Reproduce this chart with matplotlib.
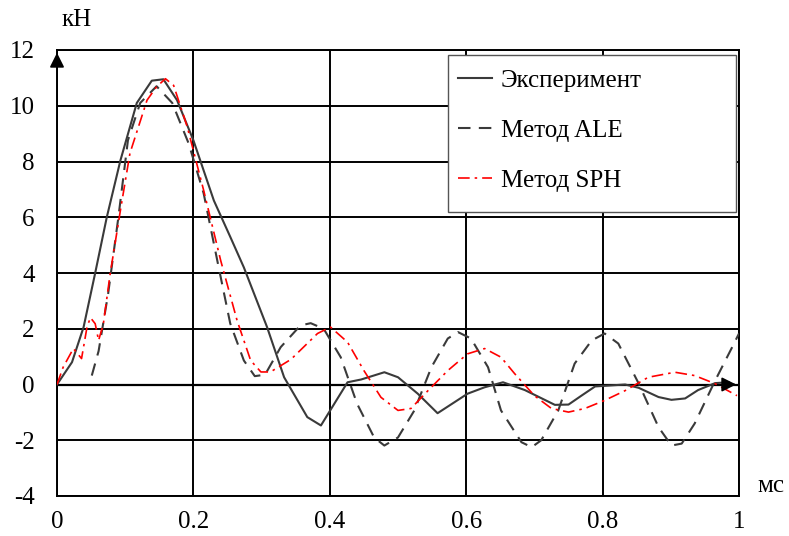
import matplotlib.pyplot as plt
from matplotlib.patches import Rectangle

plt.rcParams['font.family'] = ['Liberation Serif', 'DejaVu Serif']
plt.rcParams['axes.unicode_minus'] = False

# Эксперимент
exp_t = [0.0, 0.022, 0.039, 0.056, 0.073, 0.093, 0.117, 0.139, 0.156, 0.176, 0.2,
         0.23, 0.254, 0.274, 0.308, 0.333, 0.367, 0.387, 0.426, 0.446, 0.48, 0.5,
         0.529, 0.558, 0.602, 0.627, 0.654, 0.686, 0.73, 0.75, 0.769, 0.789, 0.833,
         0.853, 0.882, 0.901, 0.921, 0.94, 0.965, 0.985]
exp_f = [0.0, 0.8, 2.06, 4.0, 6.0, 8.04, 10.1, 10.9, 10.95, 10.2, 8.76,
         6.6, 5.3, 4.2, 2.06, 0.26, -1.17, -1.47, 0.08, 0.18, 0.44, 0.26,
         -0.33, -1.03, -0.33, -0.1, 0.08, -0.2, -0.73, -0.72, -0.4, -0.07, 0.0,
         -0.12, -0.45, -0.55, -0.5, -0.2, 0.05, 0.08]

# Метод ALE
ale_t = [0.051, 0.061, 0.075, 0.09, 0.104, 0.122, 0.146, 0.169, 0.193, 0.215,
         0.235, 0.254, 0.274, 0.29, 0.305, 0.328, 0.357, 0.372, 0.391, 0.416,
         0.44, 0.465, 0.48, 0.5, 0.524, 0.549, 0.573, 0.588, 0.607, 0.632,
         0.651, 0.681, 0.696, 0.71, 0.735, 0.759, 0.784, 0.803, 0.823, 0.853,
         0.882, 0.901, 0.916, 0.935, 0.965, 0.99, 1.0]
ale_f = [0.32, 1.2, 3.26, 6.0, 8.76, 10.1, 10.7, 10.1, 8.65, 6.86,
         4.45, 2.19, 0.86, 0.3, 0.35, 1.34, 2.12, 2.2, 2.0, 0.98,
         -0.69, -1.9, -2.19, -1.9, -0.93, 0.62, 1.65, 1.88, 1.65, 0.62,
         -0.93, -2.07, -2.25, -2.0, -0.93, 0.75, 1.58, 1.83, 1.47, 0.03,
         -1.53, -2.19, -2.12, -1.4, 0.14, 1.34, 1.83]

# Метод SPH
sph_t = [0.0, 0.009, 0.024, 0.036, 0.044, 0.049, 0.056, 0.061, 0.068, 0.078,
         0.093, 0.107, 0.132, 0.146, 0.159, 0.171, 0.191, 0.215, 0.24, 0.264,
         0.284, 0.299, 0.313, 0.343, 0.382, 0.401, 0.426, 0.45, 0.475, 0.5,
         0.519, 0.544, 0.573, 0.602, 0.627, 0.651, 0.671, 0.7, 0.725, 0.75,
         0.774, 0.803, 0.833, 0.867, 0.906, 0.935, 0.965, 0.997]
sph_f = [0.0, 0.62, 1.29, 0.93, 2.06, 2.4, 2.18, 1.58, 2.18, 3.98,
         6.25, 8.3, 10.2, 10.68, 10.97, 10.73, 9.24, 6.97, 4.45, 2.3,
         0.86, 0.45, 0.45, 0.9, 1.83, 2.06, 1.52, 0.5, -0.46, -0.93,
         -0.86, -0.22, 0.5, 1.1, 1.29, 0.98, 0.39, -0.4, -0.86, -0.99,
         -0.86, -0.57, -0.22, 0.26, 0.44, 0.32, 0.03, -0.4]

x_ticks = [0, 0.2, 0.4, 0.6, 0.8, 1]
x_labels = ['0', '0.2', '0.4', '0.6', '0.8', '1']
y_ticks = [-4, -2, 0, 2, 4, 6, 8, 10, 12]

W, H = 789, 536
fig = plt.figure(figsize=(W / 100, H / 100), dpi=100)
ax = fig.add_axes([57 / W, 40 / H, 682 / W, 446 / H])

ax.plot(exp_t, exp_f, color='#3a3a3a', linewidth=1.5, label='Эксперимент', zorder=3)
ax.plot(ale_t, ale_f, color='#3a3a3a', linewidth=1.5, linestyle=(0, (6, 4)),
        label='Метод ALE', zorder=3)
ax.plot(sph_t, sph_f, color='red', linewidth=1.2, linestyle=(0, (7, 3, 1.5, 3)),
        label='Метод SPH', zorder=3)

ax.set_xlim(0, 1)
ax.set_ylim(-4, 12)
ax.set_xticks(x_ticks)
ax.set_xticklabels(x_labels)
ax.set_yticks(y_ticks)
ax.tick_params(length=0, labelsize=18)
ax.tick_params(axis='x', pad=11)
ax.tick_params(axis='y', pad=16)
ax.grid(True, color='black', linewidth=1.4)
for s in ax.spines.values():
    s.set_linewidth(1.4)

# оси со стрелками
ax.axhline(0, color='black', linewidth=1.6, zorder=2)
ax.annotate('', xy=(1.0, 0), xytext=(0.975, 0),
            arrowprops=dict(arrowstyle='-|>', color='black', mutation_scale=22, lw=1.2),
            zorder=4, annotation_clip=False)
ax.annotate('', xy=(0, 12.0), xytext=(0, 11.3),
            arrowprops=dict(arrowstyle='-|>', color='black', mutation_scale=22, lw=1.2),
            zorder=4, annotation_clip=False)

fig.text(62 / W, 1 - 20 / H, 'кН', fontsize=18, va='center', ha='left')
fig.text(757 / W, 1 - 486 / H, 'мс', fontsize=18, va='center', ha='left')

# рамка легенды
ax.add_patch(Rectangle((448 / W, 1 - 212 / H), 288 / W, 157 / H, transform=fig.transFigure,
                       facecolor='white', edgecolor='#555555', linewidth=1.0,
                       zorder=4, clip_on=False))
leg = ax.legend(loc='upper left', bbox_to_anchor=(448 / W, 1 - 59 / H),
                bbox_transform=fig.transFigure, fontsize=18, frameon=False,
                handlelength=1.36, labelspacing=1.1, borderpad=0.4, handletextpad=0.36,
                borderaxespad=0)
leg.set_zorder(5)

plt.savefig('out.png', dpi=100)
